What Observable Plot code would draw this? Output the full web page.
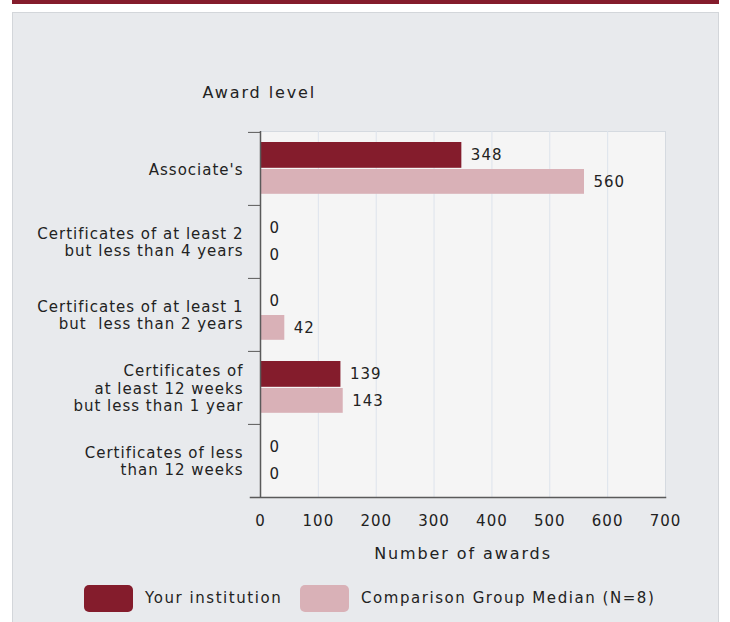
<!DOCTYPE html>
<html><head><meta charset="utf-8">
<script src="https://cdn.jsdelivr.net/npm/d3@7"></script>
<script src="https://cdn.jsdelivr.net/npm/@observablehq/plot@0.6"></script>
<style>
body{margin:0;background:#fff;font-family:"DejaVu Sans",sans-serif;}
#wrap{position:relative;width:730px;height:622px;overflow:hidden;}
#band{position:absolute;left:12px;top:0;width:707px;height:4px;background:#841c2c;}
#panel{position:absolute;left:12px;top:12px;width:707px;height:640px;background:#e8eaed;border:1.5px solid #d3d6da;box-sizing:border-box;}
#chart{position:absolute;left:0;top:0;}
svg text{white-space:pre;}
.sw{position:absolute;top:585px;width:49px;height:27px;border-radius:5px;}
.lt{position:absolute;top:586px;font-size:15px;letter-spacing:1.55px;color:#222;line-height:24px;}
</style></head>
<body>
<div id="wrap">
  <div id="band"></div>
  <div id="panel"></div>
  <div id="chart"></div>
  <div id="legend"></div>
</div>
<script>
const categories = [
  "Associate's",
  "Certificates of at least 2\nbut less than 4 years",
  "Certificates of at least 1\nbut  less than 2 years",
  "Certificates of\nat least 12 weeks\nbut less than 1 year",
  "Certificates of less\nthan 12 weeks"
];
const institution = [348, 0, 0, 139, 0];
const comparison = [560, 0, 42, 143, 0];
const xTicks = [0, 100, 200, 300, 400, 500, 600, 700];
const seriesNames = ["Your institution", "Comparison Group Median (N=8)"];
const seriesColors = ["#841c2c", "#d9b1b7"];
const xTitle = "Number of awards";
const yTitle = "Award level";

const rows = categories.map((c, i) => ({category: c, inst: institution[i], comp: comparison[i]}));

const W = 730, H = 570, mT = 131, mB = 73, mL = 260, mR = 65;
const bw = (H - mT - mB) / categories.length;

const chart = Plot.plot({
  width: W, height: H,
  marginLeft: mL, marginRight: mR, marginTop: mT, marginBottom: mB,
  style: {background: "transparent", fontFamily: "DejaVu Sans, sans-serif", fontSize: "15px", color: "#222", letterSpacing: "1px", overflow: "visible"},
  x: {domain: [0, 700]},
  y: {domain: categories, padding: 0},
  marks: [
    Plot.frame({fill: "#f5f5f5", stroke: "#d5dae0"}),
    Plot.ruleX(xTicks.slice(1, -1), {stroke: "#dde3ec"}),
    Plot.barX(rows, {x: "inst", y: "category", fill: seriesColors[0], insetTop: 10, insetBottom: bw - 36}),
    Plot.barX(rows, {x: "comp", y: "category", fill: seriesColors[1], insetTop: 37, insetBottom: bw - 62}),
    Plot.text(rows, {x: "inst", y: "category", text: d => String(d.inst), textAnchor: "start", dx: 9, dy: -14, fill: "#222"}),
    Plot.text(rows, {x: "comp", y: "category", text: d => String(d.comp), textAnchor: "start", dx: 9, dy: 13, fill: "#222"}),
    Plot.ruleX([0], {stroke: "#5a5a5a", strokeWidth: 1.5}),
    Plot.frame({anchor: "bottom", stroke: "#5a5a5a", strokeWidth: 1.5, insetLeft: -10}),
    Plot.axisY({tickSize: 0, tickPadding: 17, lineHeight: 1.17, label: null, fill: "#222"}),
    Plot.axisY({text: null, tickSize: 12, dy: -bw / 2, stroke: "#5a5a5a", label: null}),
    Plot.axisX(xTicks, {tickSize: 0, tickPadding: 18, label: null, fill: "#222"}),
    Plot.text([xTitle], {frameAnchor: "bottom", dy: 61, fill: "#222", fontSize: 16}),
    Plot.text([yTitle], {frameAnchor: "top-left", textAnchor: "start", dx: -58, dy: -45, fill: "#222", fontSize: 16})
  ]
});
// wider tracking for the two axis titles
chart.querySelectorAll("text").forEach(t => {
  if (t.textContent === xTitle || t.textContent === yTitle) t.style.letterSpacing = "1.9px";
});
document.getElementById("chart").appendChild(chart);

const legend = document.getElementById("legend");
const swX = [84, 300], txX = [145, 361];
seriesNames.forEach((name, i) => {
  const sw = document.createElement("div");
  sw.className = "sw"; sw.style.left = swX[i] + "px"; sw.style.background = seriesColors[i];
  legend.appendChild(sw);
  const t = document.createElement("div");
  t.className = "lt"; t.style.left = txX[i] + "px"; t.textContent = name;
  legend.appendChild(t);
});
</script>
</body></html>
